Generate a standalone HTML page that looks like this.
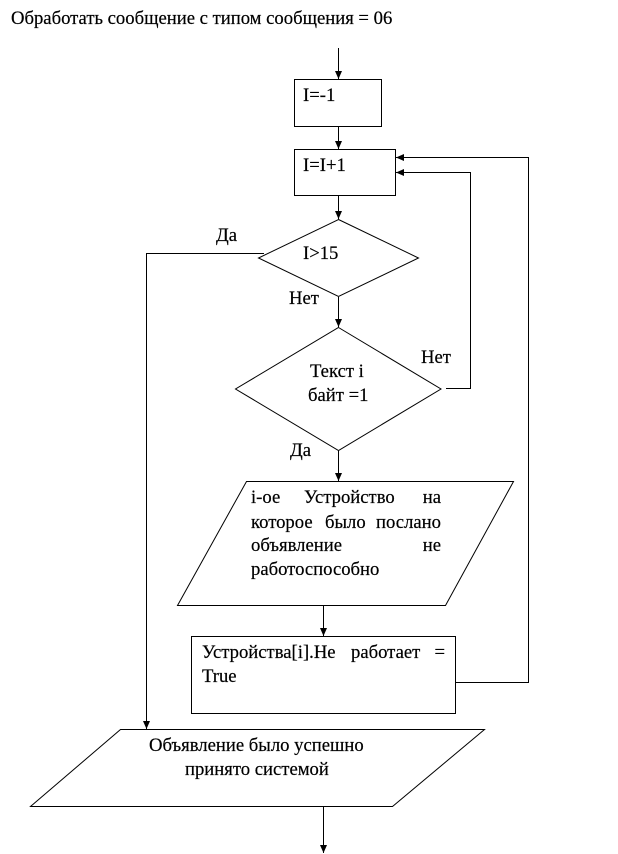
<!DOCTYPE html>
<html>
<head>
<meta charset="utf-8">
<style>
html,body{margin:0;padding:0;background:#fff;width:618px;height:854px;overflow:hidden}
svg{display:block}
text{font-family:"Liberation Serif","Noto Serif CJK SC",serif;font-size:18.67px;fill:#000;stroke:#000;stroke-width:.2}
</style>
</head>
<body>
<svg width="618" height="854" viewBox="0 0 618 854" xmlns="http://www.w3.org/2000/svg">
<defs>
<marker id="a" markerWidth="9" markerHeight="8" refX="8" refY="3.5" orient="auto" markerUnits="userSpaceOnUse">
<path d="M0,0 L8,3.5 L0,7 Z" fill="#000"/>
</marker>
</defs>
<g fill="none" stroke="#000" stroke-width="1">
<rect x="294.5" y="79.5" width="87" height="47"/>
<rect x="294.5" y="149.5" width="101" height="46"/>
<polygon points="338.5,219.5 418.5,258 338.5,296.5 258.5,258"/>
<polygon points="338.5,327.5 441,389 338.5,450.5 235.5,389"/>
<polygon points="246.5,481.5 513.5,481.5 445.5,605.5 177.5,605.5"/>
<rect x="191.5" y="636.5" width="264" height="77"/>
<polygon points="120.5,729.5 484.5,729.5 392.5,806.5 30.5,806.5"/>
<line x1="338.5" y1="48" x2="338.5" y2="79" marker-end="url(#a)"/>
<line x1="338.5" y1="127" x2="338.5" y2="149" marker-end="url(#a)"/>
<line x1="338.5" y1="196" x2="338.5" y2="219" marker-end="url(#a)"/>
<line x1="338.5" y1="297" x2="338.5" y2="327" marker-end="url(#a)"/>
<line x1="338.5" y1="451" x2="338.5" y2="481" marker-end="url(#a)"/>
<line x1="323.5" y1="606" x2="323.5" y2="636" marker-end="url(#a)"/>
<line x1="323.5" y1="807" x2="323.5" y2="853" marker-end="url(#a)"/>
<polyline points="446,388.5 470.5,388.5 470.5,172.5 396,172.5" marker-end="url(#a)"/>
<polyline points="456,682.5 528.5,682.5 528.5,157.5 396,157.5" marker-end="url(#a)"/>
<polyline points="264,253.5 146.5,253.5 146.5,729" marker-end="url(#a)"/>
</g>
<text x="11" y="24">Обработать сообщение с типом сообщения = 06</text>
<text x="303" y="101">I=-1</text>
<text x="303" y="171">I=I+1</text>
<text x="303" y="259">I&gt;15</text>
<text x="216" y="241">Да</text>
<text x="289" y="304">Нет</text>
<text x="421" y="363">Нет</text>
<text x="310" y="377">Текст i</text>
<text x="308" y="401">байт =1</text>
<text x="290" y="456">Да</text>
<text x="251" y="503">i-ое</text>
<text x="304" y="503">Устройство</text>
<text x="441" y="503" text-anchor="end">на</text>
<text x="251" y="528">которое</text>
<text x="325" y="528">было</text>
<text x="441" y="528" text-anchor="end">послано</text>
<text x="251" y="551">объявление</text>
<text x="441" y="551" text-anchor="end">не</text>
<text x="251" y="575">работоспособно</text>
<text x="202" y="658">Устройства[i].Не</text>
<text x="351" y="658">работает</text>
<text x="445" y="658" text-anchor="end">=</text>
<text x="202" y="682">True</text>
<text x="149" y="751">Объявление было успешно</text>
<text x="185" y="775">принято системой</text>
</svg>
</body>
</html>
